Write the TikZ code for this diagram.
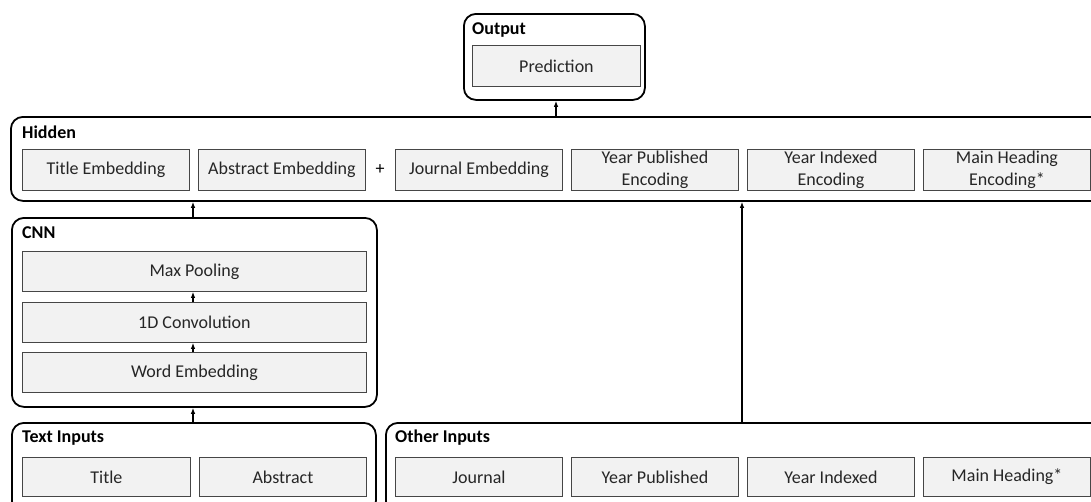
\documentclass[tikz,border=0pt]{standalone}
\usepackage{fontspec}
\setmainfont{Carlito}
\usetikzlibrary{arrows.meta}
\definecolor{boxfill}{RGB}{242,242,242}
\definecolor{boxline}{RGB}{70,70,70}
\begin{document}
\begin{tikzpicture}[x=1pt,y=-1pt,
  group/.style={draw=black, line width=1.8pt, rounded corners=12pt, anchor=north west, inner sep=0pt},
  layer/.style={draw=boxline, fill=boxfill, line width=0.9pt, anchor=north west, inner sep=0pt,
    minimum height=41pt, font=\fontsize{18}{22}\selectfont, text=black!85, align=center},
  title/.style={anchor=west, font=\fontsize{18}{20}\selectfont\bfseries, inner sep=0pt},
  arr/.style={line width=1.1pt, -{Latex[length=6pt,width=4.5pt]}},
  plus/.style={font=\fontsize{18}{22}\selectfont, inner sep=0pt}
]
\clip (0,0) rectangle (1091,501);
\fill[white] (0,0) rectangle (1091,501);

% Output
\node[group, minimum width=181pt, minimum height=86pt] (out) at (463,13) {};
\node[title] (outl) at (472,30) {Output};
\node[layer, minimum width=168pt] (pred) at (472,45) {Prediction};

% Hidden
\node[group, minimum width=1100pt, minimum height=84pt] (hid) at (10,116) {};
\node[title] (hidl) at (22,132) {Hidden};
\node[layer, minimum width=167pt] (te) at (22,149) {Title Embedding};
\node[layer, minimum width=167pt] (ae) at (198,149) {Abstract Embedding};
\node[plus] (pl) at (380,170) {+};
\node[layer, minimum width=167pt] (je) at (395,149) {Journal Embedding};
\node[layer, minimum width=167pt] (ype) at (571,149) {Year Published\\Encoding};
\node[layer, minimum width=167pt] (yie) at (747,149) {Year Indexed\\Encoding};
\node[layer, minimum width=167pt] (mhe) at (923,149) {Main Heading\\Encoding*};

% CNN
\node[group, minimum width=365pt, minimum height=189pt] (cnn) at (11,217) {};
\node[title] (cnnl) at (22,233) {CNN};
\node[layer, minimum width=344pt, minimum height=40pt] (mp) at (22,251) {Max Pooling};
\node[layer, minimum width=344pt, minimum height=40pt] (conv) at (22,302) {1D Convolution};
\node[layer, minimum width=344pt, minimum height=40pt] (we) at (22,352) {Word Embedding};

% Text Inputs
\node[group, minimum width=364pt, minimum height=90pt] (txt) at (11,422) {};
\node[title] (txtl) at (22,438) {Text Inputs};
\node[layer, minimum width=168pt, minimum height=39pt] (ti) at (22,457) {Title};
\node[layer, minimum width=167pt, minimum height=39pt] (ab) at (199,457) {Abstract};

% Other Inputs
\node[group, minimum width=720pt, minimum height=90pt] (oth) at (385,422) {};
\node[title] (othl) at (395,438) {Other Inputs};
\node[layer, minimum width=167pt, minimum height=39pt] (jo) at (395,457) {Journal};
\node[layer, minimum width=167pt, minimum height=39pt] (yp) at (571,457) {Year Published};
\node[layer, minimum width=167pt, minimum height=39pt] (yi) at (747,457) {Year Indexed};
\node[layer, minimum width=167pt, minimum height=39pt] (mh) at (923,457) {Main Heading*};

% connectors
\coordinate (c1) at (193,0);
\coordinate (c2) at (742,0);
\coordinate (c3) at (556,0);
\draw[arr] (c1 |- txt.north) -- (c1 |- cnn.south);
\draw[arr] (c1 |- we.north) -- (c1 |- conv.south);
\draw[arr] (c1 |- conv.north) -- (c1 |- mp.south);
\draw[arr] (c1 |- cnn.north) -- (c1 |- hid.south);
\draw[arr] (c2 |- oth.north) -- (c2 |- hid.south);
\draw[arr] (c3 |- hid.north) -- (c3 |- out.south);
\end{tikzpicture}
\end{document}
